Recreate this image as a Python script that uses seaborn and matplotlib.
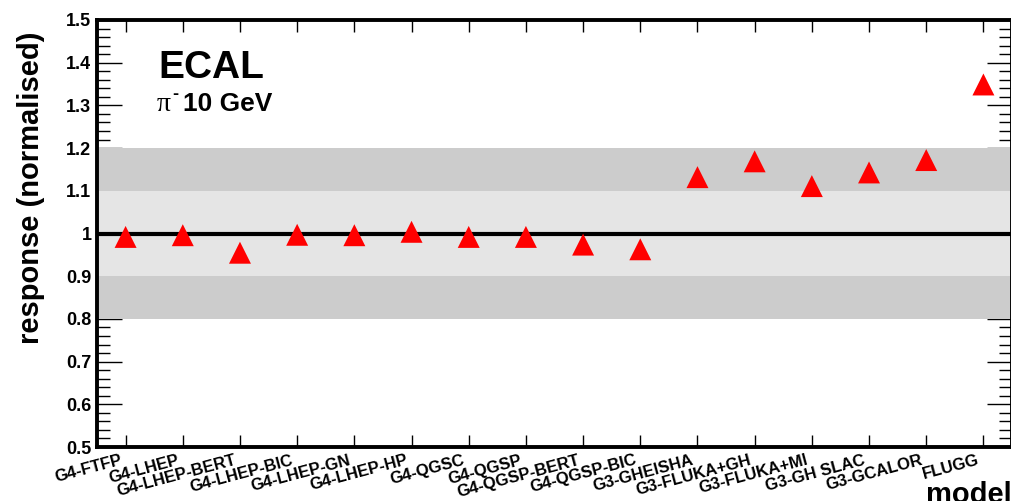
import numpy as np
import pandas as pd
import matplotlib
matplotlib.use("Agg")
import matplotlib.pyplot as plt
import matplotlib.ticker as mticker
import matplotlib.transforms as mtransforms
import seaborn as sns

# dati (risposta normalizzata per modello)
modelli = ["G4-FTFP", "G4-LHEP", "G4-LHEP-BERT", "G4-LHEP-BIC", "G4-LHEP-GN",
           "G4-LHEP-HP", "G4-QGSC", "G4-QGSP", "G4-QGSP-BERT", "G4-QGSP-BIC",
           "G3-GHEISHA", "G3-FLUKA+GH", "G3-FLUKA+MI", "G3-GH SLAC",
           "G3-GCALOR", "FLUGG"]
risposta = [0.992, 0.996, 0.955, 0.997, 0.996, 1.004, 0.992, 0.992, 0.974,
            0.963, 1.132, 1.169, 1.111, 1.143, 1.172, 1.349]

# bande di riferimento
banda_larga = (0.8, 1.2)
banda_stretta = (0.9, 1.1)
riferimento = 1.0

sns.set_style("ticks")
plt.rcParams["font.family"] = ["Liberation Sans", "DejaVu Sans"]
plt.rcParams["font.weight"] = "bold"
for chiave in ["text.color", "axes.labelcolor", "xtick.color", "ytick.color",
               "axes.edgecolor"]:
    plt.rcParams[chiave] = "black"

df = pd.DataFrame({"modello": modelli, "risposta": risposta})

fig = plt.figure(figsize=(10.11, 5.01), dpi=100)
ax = fig.add_axes([97 / 1011, 54 / 501, 915 / 1011, 427 / 501])
ax.set_axisbelow(True)

# bande grigie sopra i tick (come nell'originale)
ax.axhspan(*banda_larga, color="#cccccc", lw=0, zorder=1)
ax.axhspan(*banda_stretta, color="#e5e5e5", lw=0, zorder=1)
ax.axhline(riferimento, color="black", lw=3, zorder=2)

sns.scatterplot(data=df, x="modello", y="risposta", marker="^", s=250,
                color="#ff0000", edgecolor="none", zorder=3, ax=ax, legend=False)

ax.set_xlim(-0.5, len(modelli) - 0.5)
ax.set_ylim(0.5, 1.5)

# assi e tick stile ROOT
for lato in ["left", "right", "top", "bottom"]:
    ax.spines[lato].set_visible(True)
    ax.spines[lato].set_linewidth(2.8)
    ax.spines[lato].set_color("black")
    ax.spines[lato].set_zorder(4)

ax.set_xticks(range(len(modelli)))
ax.set_xticklabels(modelli, rotation=15, ha="right", va="top",
                   rotation_mode="anchor", fontsize=12, fontweight="bold")
ax.yaxis.set_major_locator(mticker.MultipleLocator(0.1))
ax.yaxis.set_minor_locator(mticker.MultipleLocator(0.02))
ax.yaxis.set_major_formatter(mticker.FuncFormatter(lambda v, p: f"{v:g}"))

ax.tick_params(axis="x", which="major", direction="in", length=8.5, width=1,
               top=True, bottom=True, pad=4, colors="black")
ax.tick_params(axis="x", which="minor", bottom=False, top=False)
ax.tick_params(axis="y", which="major", direction="in", length=18, width=1,
               left=True, right=True, pad=4, labelsize=13, colors="black")
ax.tick_params(axis="y", which="minor", direction="in", length=9.5, width=1,
               left=True, right=True, colors="black")
for lab in ax.get_yticklabels():
    lab.set_fontweight("bold")

# sposta un po' a sinistra le etichette ruotate
offset = mtransforms.ScaledTranslation(-6 / 100, 0, fig.dpi_scale_trans)
for lab in ax.get_xticklabels():
    lab.set_transform(lab.get_transform() + offset)

ax.set_xlabel("model", loc="right", fontsize=21, fontweight="bold")
ax.xaxis.set_label_coords(1.0, -0.080)
ax.set_ylabel("response (normalised)", loc="top", fontsize=21, fontweight="bold")
ax.yaxis.set_label_coords(-0.057, 0.972)

ax.text(0.0667, 0.864, "ECAL", transform=ax.transAxes, fontsize=28,
        fontweight="bold", va="baseline", ha="left")
# pi greco con apice meno, poi energia
ax.text(0.065, 0.787, "π", transform=ax.transAxes, fontsize=20,
        family="Liberation Serif", fontweight="normal", va="baseline", ha="left")
ax.text(0.082, 0.815, "-", transform=ax.transAxes, fontsize=13,
        fontweight="bold", va="baseline", ha="left")
ax.text(0.094, 0.787, "10 GeV", transform=ax.transAxes, fontsize=19,
        fontweight="bold", va="baseline", ha="left")

fig.savefig("out.png", dpi=100)
